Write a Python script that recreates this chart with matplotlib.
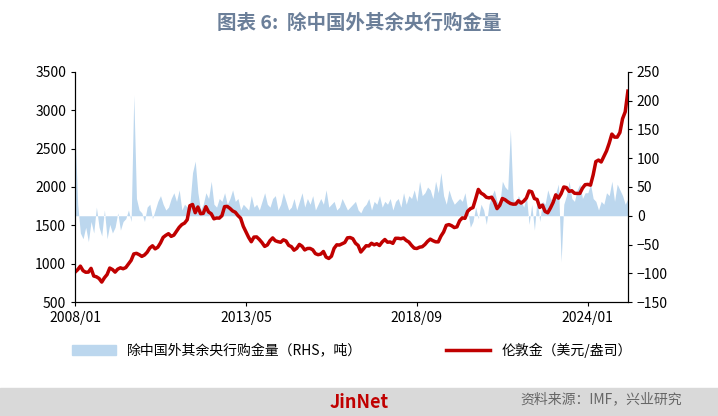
import matplotlib
matplotlib.use("Agg")
import matplotlib.pyplot as plt
import numpy as np
import pandas as pd

plt.rcParams['font.family'] = ['Noto Sans CJK SC', 'DejaVu Sans']

gold = [889,922,968,909,888,890,939,839,829,807,760,816,
858,943,924,890,929,946,934,949,996,1043,1127,1135,
1118,1095,1113,1149,1205,1233,1193,1215,1271,1343,1370,1391,
1356,1372,1424,1474,1510,1529,1573,1756,1772,1665,1739,1652,
1656,1743,1674,1651,1585,1596,1594,1626,1744,1747,1721,1688,
1671,1627,1593,1487,1414,1343,1286,1347,1349,1316,1275,1225,
1244,1300,1336,1299,1287,1279,1311,1296,1239,1222,1176,1200,
1251,1227,1179,1198,1199,1181,1131,1117,1125,1159,1086,1068,
1097,1200,1246,1243,1260,1276,1337,1341,1326,1267,1238,1152,
1192,1234,1231,1266,1246,1260,1237,1283,1315,1280,1283,1265,
1331,1331,1325,1335,1303,1282,1238,1202,1198,1215,1221,1250,
1291,1320,1300,1285,1284,1359,1413,1500,1510,1495,1471,1480,
1560,1597,1591,1683,1716,1732,1846,1968,1921,1900,1866,1858,
1867,1808,1718,1760,1850,1834,1807,1785,1776,1777,1821,1790,
1816,1856,1948,1937,1849,1837,1733,1764,1681,1664,1726,1798,
1898,1854,1912,2000,1992,1943,1951,1918,1916,1916,1985,2030,
2034,2024,2158,2331,2351,2326,2398,2470,2571,2690,2650,2650,
2710,2890,2980,3250]

cb = [145,20,-30,-40,-20,-45,-10,-30,15,-20,-35,10,
-40,-15,-30,-20,5,-25,-10,-5,10,-10,210,30,
10,5,-10,15,20,-5,10,25,35,20,10,15,
30,40,25,45,10,20,15,20,75,95,40,10,
20,40,30,60,20,15,30,25,40,20,30,45,
25,30,10,20,15,10,35,15,20,10,25,40,
20,15,30,35,10,20,40,25,10,15,30,10,
25,40,15,30,20,35,10,20,30,20,45,15,
20,25,10,15,30,20,10,15,20,25,10,5,
15,20,30,10,25,20,35,15,25,20,30,10,
25,30,15,40,20,35,30,45,25,60,35,40,
50,45,30,60,40,75,35,20,45,30,20,25,
30,25,40,10,-20,-10,15,-5,20,10,-15,20,
35,45,25,20,60,50,45,150,30,20,35,25,
15,35,-15,20,-25,30,-10,25,20,45,30,25,
40,55,-80,20,35,60,30,25,45,55,30,40,
40,55,30,25,10,25,20,40,35,60,25,55,
45,35,20,30]

dates = pd.date_range("2008-01-01", periods=len(gold), freq="MS")
x = np.arange(len(gold))
tick_pos = [0, 64, 128, 192]
tick_labels = ["2008/01", "2013/05", "2018/09", "2024/01"]

fig = plt.figure(figsize=(7.18, 4.16), dpi=100)
ax = fig.add_axes([0.1045, 0.274, 0.770, 0.553])
ax2 = ax.twinx()
ax.set_zorder(2); ax.patch.set_visible(False)

ax2.fill_between(x, 0, cb, color="#bcd7ee", lw=0)
ax2.set_ylim(-150, 250)
ax2.set_yticks(range(-150, 251, 50))
ax.plot(x, gold, color="#c00000", lw=2.5)
ax.set_ylim(500, 3500)
ax.set_yticks(range(500, 3501, 500))
ax.set_xlim(0, len(gold) - 1)
ax.set_xticks(tick_pos)
ax.set_xticklabels(tick_labels)

for a in (ax, ax2):
    for s in a.spines.values():
        s.set_color("black"); s.set_linewidth(0.8)
    a.spines['top'].set_visible(False)
    a.tick_params(labelsize=10, length=3, direction="out")

fig.text(0.5, 0.945, "图表 6:  除中国外其余央行购金量", ha="center", va="center",
         fontsize=14, fontweight="bold", color="#6b7f99")

from matplotlib.patches import Patch
from matplotlib.lines import Line2D
h1 = Patch(color="#bcd7ee")
h2 = Line2D([0], [0], color="#c00000", lw=2.5)
fig.legend([h1, h2], ["除中国外其余央行购金量（RHS，吨）", "伦敦金（美元/盎司）"],
           loc="center", bbox_to_anchor=(0.49, 0.158), ncol=2, frameon=False,
           fontsize=10, columnspacing=6, handlelength=3.2)

fig.patches.append(plt.Rectangle((0, 0), 1, 0.067, transform=fig.transFigure,
                                 color="#d9d9d9", zorder=0))
fig.text(0.5, 0.033, "JinNet", ha="center", va="center", fontsize=13,
         fontweight="bold", color="#c00000")
fig.text(0.95, 0.04, "资料来源：IMF，兴业研究", ha="right", va="center",
         fontsize=10, color="#666666")

fig.savefig("out.png", dpi=100)
